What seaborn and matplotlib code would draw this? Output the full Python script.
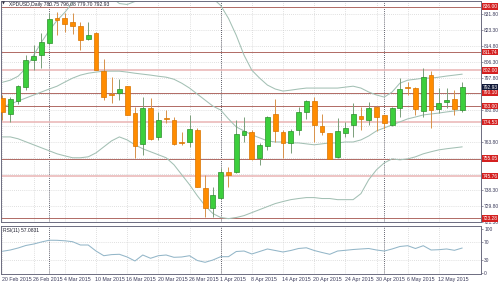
import numpy as np
import pandas as pd
import matplotlib
matplotlib.use("Agg")
import matplotlib.pyplot as plt
import matplotlib.transforms as mtransforms
import seaborn as sns

# ---------------- data ----------------
open_ = [787.3, 778.8, 785.7, 793.1, 807.4, 810.1, 816.4, 829.7, 829.7, 827.6,
         825.4, 818.6, 821.7, 801.6, 789.4, 789.9, 793.6, 779.3, 762.9, 782.0,
         766.6, 776.7, 775.6, 764.0, 764.0, 770.3, 739.6, 729.0, 734.3, 748.1,
         748.1, 767.7, 769.3, 755.5, 761.8, 778.8, 769.3, 763.4, 770.3, 779.9,
         785.7, 772.4, 768.7, 756.0, 768.7, 773.0, 777.7, 775.6, 782.5, 778.3,
         773.0, 782.0, 793.1, 792.6, 780.4, 799.5, 781.5, 785.2, 786.7, 780.75]
high = [788.9, 787.8, 794.2, 810.1, 815.4, 821.7, 832.3, 832.9, 832.3, 832.3,
        827.6, 827.6, 822.3, 808.0, 798.4, 797.4, 793.6, 782.5, 787.8, 787.3,
        779.9, 780.9, 777.2, 769.3, 778.3, 771.4, 746.5, 740.1, 750.2, 750.7,
        775.6, 777.2, 770.3, 763.4, 777.7, 786.7, 770.3, 770.8, 782.5, 786.2,
        787.8, 778.8, 768.7, 776.7, 774.6, 784.6, 782.5, 785.2, 783.0, 778.3,
        782.5, 797.9, 795.8, 793.1, 803.2, 801.6, 792.6, 792.6, 791.5, 796.08]
low = [775.6, 774.6, 784.1, 791.5, 802.1, 803.2, 815.9, 820.7, 822.3, 821.2,
       812.7, 818.0, 802.1, 786.2, 784.6, 786.2, 778.3, 755.5, 757.1, 765.0,
       765.0, 774.0, 762.4, 762.4, 761.3, 740.1, 723.7, 723.7, 733.8, 740.1,
       747.5, 764.0, 754.4, 751.8, 759.7, 764.0, 755.5, 758.1, 767.7, 776.2,
       764.0, 767.7, 754.9, 755.5, 766.6, 766.6, 770.3, 773.0, 769.8, 770.8,
       772.4, 777.2, 788.9, 778.3, 777.2, 771.4, 779.3, 782.0, 778.3, 779.70]
close = [779.9, 786.7, 793.6, 807.4, 809.5, 817.0, 829.2, 828.6, 826.5, 825.4,
         818.0, 820.7, 802.1, 787.8, 789.1, 792.0, 778.3, 761.8, 782.0, 765.6,
         775.6, 776.2, 762.9, 763.4, 770.8, 740.1, 729.0, 735.9, 748.1, 746.5,
         768.2, 769.8, 754.9, 762.4, 777.2, 769.8, 763.4, 769.8, 779.9, 785.7,
         773.0, 769.3, 754.9, 769.8, 771.4, 778.8, 776.2, 782.0, 777.2, 774.0,
         782.0, 792.1, 792.6, 781.5, 798.4, 780.9, 784.6, 786.2, 781.5, 792.93]

bb_upper = [795.7, 796.8, 798.9, 803.2, 810.1, 817.0, 823.3, 828.6, 832.9, 838.2,
            841.9, 844.5, 844.5, 843.5, 840.8, 837.6, 837.1, 838.7, 839.7, 840.3,
            840.8, 841.3, 842.9, 844.0, 844.0, 843.5, 842.4, 840.3, 836.6, 829.7,
            820.7, 810.1, 802.1, 797.9, 794.2, 792.1, 791.0, 791.5, 792.1, 792.6,
            792.6, 792.6, 792.6, 792.6, 793.1, 793.6, 792.6, 790.5, 788.9, 787.8,
            790.5, 795.2, 796.8, 797.3, 797.9, 797.9, 798.4, 799.0, 799.5, 800.0]
bb_mid = [782.5, 784.1, 785.7, 787.3, 788.9, 790.5, 792.1, 793.6, 795.8, 797.9,
          799.5, 800.5, 801.1, 801.6, 801.6, 801.6, 801.1, 800.5, 800.0, 799.5,
          798.9, 798.4, 797.3, 795.2, 792.6, 789.4, 786.2, 783.0, 780.9, 776.2,
          771.9, 769.8, 767.7, 766.1, 764.5, 763.9, 763.9, 763.4, 763.4, 762.9,
          762.4, 762.9, 763.4, 763.4, 763.9, 763.9, 765.0, 767.1, 769.8, 771.4,
          773.0, 774.6, 776.2, 777.2, 778.3, 778.8, 779.3, 779.9, 780.4, 780.9]
bb_lower = [766.6, 766.6, 765.6, 764.0, 762.4, 760.8, 759.2, 757.6, 756.5, 755.5,
            755.5, 756.0, 758.1, 761.3, 764.5, 766.6, 765.0, 762.4, 760.3, 758.7,
            757.1, 755.5, 751.8, 746.5, 741.2, 735.3, 730.0, 725.8, 723.7, 723.1,
            723.7, 724.7, 726.3, 727.9, 729.5, 731.1, 732.2, 733.2, 733.8, 734.3,
            734.3, 733.8, 733.8, 733.2, 733.2, 733.2, 736.4, 743.8, 749.1, 752.8,
            754.9, 754.4, 754.9, 756.0, 757.6, 758.7, 759.7, 760.3, 760.8, 761.3]
rsi = [49.7, 52.6, 57.1, 62.8, 66.1, 70.7, 74.7, 74.5, 73.4, 71.3,
       63.9, 63.9, 50.3, 39.7, 42.2, 42.9, 36.8, 27.8, 41.3, 33.9,
       39.7, 41.3, 36.1, 36.8, 39.7, 28.9, 24.8, 30.0, 37.5, 37.5,
       49.2, 50.3, 43.6, 49.2, 54.9, 51.5, 48.1, 51.5, 56.0, 57.6,
       51.5, 47.0, 42.9, 50.3, 51.9, 53.7, 54.9, 56.0, 52.6, 50.3,
       54.9, 60.5, 62.3, 56.0, 62.3, 52.6, 53.3, 54.9, 51.9, 57.08]

date_labels = ["20 Feb 2015", "26 Feb 2015", "4 Mar 2015", "10 Mar 2015", "16 Mar 2015",
               "20 Mar 2015", "26 Mar 2015", "1 Apr 2015", "8 Apr 2015", "14 Apr 2015",
               "20 Apr 2015", "24 Apr 2015", "30 Apr 2015", "6 May 2015", "12 May 2015"]
date_label_bars = [0, 4, 8, 12, 16, 20, 24, 28, 32, 36, 40, 44, 48, 52, 56]
month_start_bars = [6, 28, 49]

price_ticks = [831.80, 823.30, 814.80, 806.30, 797.80, 789.30, 780.80,
               763.80, 738.30, 729.80, 721.30]
grid_levels = [831.80, 823.30, 814.80, 806.30, 797.80, 789.30, 780.80, 772.30,
               763.80, 755.30, 746.80, 738.30, 729.80, 721.30]
level_values = [836.00, 811.74, 802.00, 790.10, 783.00, 774.53, 755.05, 745.76, 723.28]
level_dark = [True, True, False, True, True, False, True, False, True]
rsi_ticks = [100, 70, 30, 0]

title_text = "XPDUSD,Daily 780.75 796.08 779.70 792.93"
rsi_title = "RSI(11) 57.0831"

# ---------------- style ----------------
sns.set_style("white")
plt.rcParams["font.family"] = ["Liberation Sans", "DejaVu Sans"]
FS = 3.8      # date labels / titles
FS_AX = 3.5   # right axis labels
FS_BOX = 3.5  # level boxes
TXT = "#3a3a5a"
GRID = "#cccccc"
SPINE = "#6c6c80"

n = len(close)
df = pd.DataFrame({"bar": np.arange(n), "open": open_, "high": high, "low": low,
                   "close": close, "upper": bb_upper, "mid": bb_mid,
                   "lower": bb_lower, "rsi": rsi})

W, H = 500, 285
def rect(x0, y0, x1, y1):
    return [x0 / W, 1 - y1 / H, (x1 - x0) / W, (y1 - y0) / H]

fig = plt.figure(figsize=(W / 100, H / 100), dpi=100)
ax = fig.add_axes(rect(0.5, 0.5, 481, 222))
axr = fig.add_axes(rect(0.5, 226, 481, 274))

xlim = (-2 / 7.8, (481 - 2) / 7.8)
for a in (ax, axr):
    a.set_xlim(*xlim)
    a.set_facecolor("white")
    for s in a.spines.values():
        s.set_color(SPINE)
        s.set_linewidth(0.7)
    a.set_xticks([])
    a.tick_params(axis="y", which="both", left=False, right=True, labelleft=False,
                  labelright=True, length=1.5, width=0.5, color=SPINE,
                  labelsize=FS_AX, labelcolor=TXT, pad=0.8)
ax.set_ylim(721.56, 839.22)
axr.set_ylim(-1.6, 106.8)

# grid
dots = (0, (1.2, 1.8))
for lv in grid_levels:
    ax.axhline(lv, color=GRID, lw=0.5, ls=dots, zorder=0)
for b in date_label_bars:
    ax.axvline(b, color=GRID, lw=0.5, ls=dots, zorder=0)
    axr.axvline(b, color=GRID, lw=0.5, ls=dots, zorder=0)
for lv in (70, 30):
    axr.axhline(lv, color=GRID, lw=0.5, ls=dots, zorder=0)
for b in month_start_bars:
    ax.axvline(b, color="#303040", lw=0.6, ls=(0, (1, 1.5)), zorder=1)
    axr.axvline(b, color="#303040", lw=0.6, ls=(0, (1, 1.5)), zorder=1)

# horizontal levels
for lv, dark in zip(level_values, level_dark):
    if dark:
        ax.axhline(lv, color="#b06a64", lw=0.7, zorder=1.5)
    else:
        ax.axhline(lv, color="#eab4b4", lw=1.1, zorder=1.5)

# Bollinger bands
band_col = "#a3c0b4"
for col in ("upper", "mid", "lower"):
    sns.lineplot(data=df, x="bar", y=col, ax=ax, color=band_col, lw=0.75, zorder=2)

# candles
up = df["close"] >= df["open"]
green_face, green_edge = "#3ccf3c", "#2b8f2b"
orange_face, orange_edge = "#ff8c00", "#d87400"
wick_cols = np.where(up, "#7a9e7a", "#d8924a")
ax.vlines(df["bar"], df["low"], df["high"], colors=wick_cols, lw=0.7, zorder=3)
body_h = (df["close"] - df["open"]).abs().clip(lower=0.45)
body_b = df[["open", "close"]].min(axis=1)
ax.bar(df["bar"][up], body_h[up], bottom=body_b[up], width=0.62,
       color=green_face, edgecolor=green_edge, linewidth=0.5, zorder=4)
ax.bar(df["bar"][~up], body_h[~up], bottom=body_b[~up], width=0.62,
       color=orange_face, edgecolor=orange_edge, linewidth=0.5, zorder=4)

# RSI
sns.lineplot(data=df, x="bar", y="rsi", ax=axr, color="#93b6c8", lw=0.75, zorder=3)

for a in (ax, axr):
    a.set_xlabel("")
    a.set_ylabel("")

ax.set_yticks(price_ticks)
ax.set_yticklabels([f"{v:.2f}" for v in price_ticks])
axr.set_yticks(rsi_ticks)
axr.set_yticklabels([str(v) for v in rsi_ticks])

# level labels on the right
trans = mtransforms.blended_transform_factory(ax.transAxes, ax.transData)
xbox = 482.6 / 481
ax.text(xbox, close[-1], f"{close[-1]:.2f}", transform=trans, fontsize=FS_BOX,
        color="white", va="center", ha="left", clip_on=False, zorder=10,
        bbox=dict(boxstyle="square,pad=0.15", fc="#101838", ec="none"))
for lv in level_values:
    ax.text(xbox, lv, f"{lv:.2f}", transform=trans, fontsize=FS_BOX, color="white",
            va="center", ha="left", clip_on=False, zorder=11,
            bbox=dict(boxstyle="square,pad=0.15", fc="#d42020", ec="none"))

# titles
ax.text(0.003, 0.994, "\u25bc", transform=ax.transAxes, fontsize=2.8, color="#303040",
        va="top", ha="left", family="DejaVu Sans")
ax.text(0.018, 0.995, title_text, transform=ax.transAxes, fontsize=3.6, color="#202030",
        va="top", ha="left")
axr.text(0.005, 0.96, rsi_title, transform=axr.transAxes, fontsize=3.6, color="#202030",
         va="top", ha="left")

# date labels
transd = mtransforms.blended_transform_factory(axr.transData, fig.transFigure)
for b, lab in zip(date_label_bars, date_labels):
    axr.text(b - 0.1, 1 - 279.5 / H, lab, transform=transd, fontsize=FS, color=TXT,
             va="center", ha="left", clip_on=False)

fig.savefig("out.png", dpi=100, facecolor="white")
